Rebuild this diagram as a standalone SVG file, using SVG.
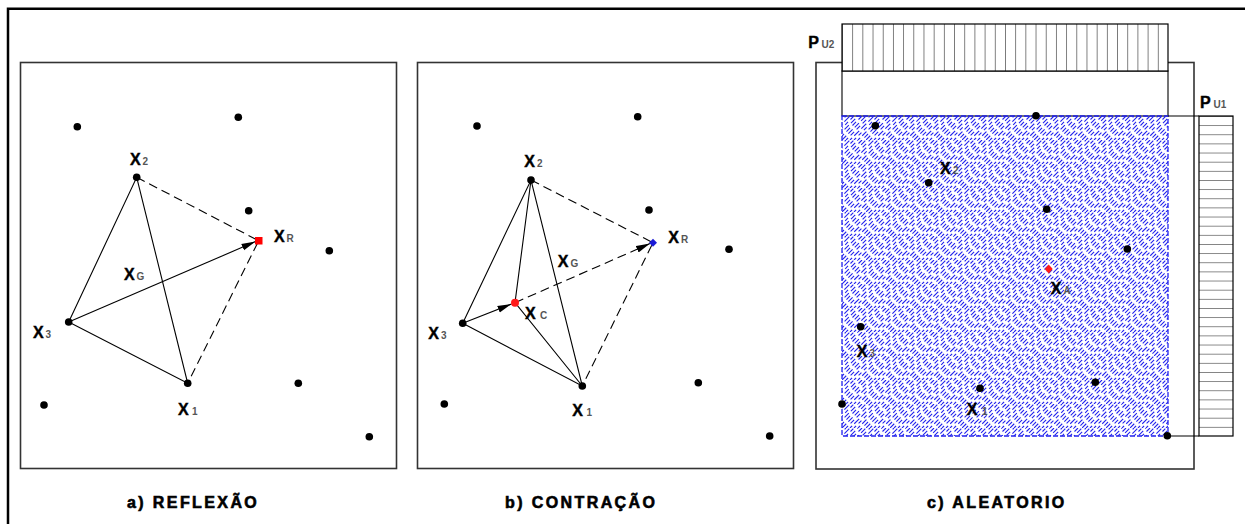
<svg xmlns="http://www.w3.org/2000/svg" width="1245" height="524" viewBox="0 0 1245 524">
<style>
.frame{fill:none;stroke:#000;stroke-width:2.5}
.panel{fill:#fff;stroke:#333;stroke-width:1.6}
.ln{fill:none;stroke:#000;stroke-width:1.1}
.dash{fill:none;stroke:#000;stroke-width:1.1;stroke-dasharray:9 5}
.dot{fill:#000}
.lbl{font-family:"Liberation Sans",Arial,sans-serif;font-weight:bold;font-size:16px;fill:#000;stroke:#000;stroke-width:0.4}
.sub{font-family:"Liberation Sans",Arial,sans-serif;font-weight:bold;font-size:10px;fill:#555}
.cap{font-family:"Liberation Sans",Arial,sans-serif;font-weight:bold;font-size:16px;letter-spacing:2.4px;fill:#000;stroke:#000;stroke-width:0.6}
.bar{stroke:#000;stroke-width:1.2}
</style>
<defs>
<marker id="arr" viewBox="0 0 14 8" markerWidth="14" markerHeight="8" refX="14" refY="4" orient="auto" markerUnits="userSpaceOnUse">
<path d="M0,0.5 L14,4 L0,7.5 Z" fill="#000"/>
</marker>
<pattern id="hatch" patternUnits="userSpaceOnUse" x="842" y="116" width="24" height="24">
<g stroke="#2222ee" stroke-width="1.1" fill="none">
<path d="M-24,24 L0,0" stroke-dasharray="6 3"/>
<path d="M-20,24 L4,0" stroke-dasharray="5 3.5" stroke-dashoffset="2"/>
<path d="M-16,24 L8,0" stroke-dasharray="7 3" stroke-dashoffset="4"/>
<path d="M-12,24 L12,0" stroke-dasharray="4 3.5" stroke-dashoffset="1"/>
<path d="M-8,24 L16,0" stroke-dasharray="6 3" stroke-dashoffset="3"/>
<path d="M-4,24 L20,0" stroke-dasharray="5 3.5" stroke-dashoffset="5"/>
<path d="M0,24 L24,0" stroke-dasharray="6 3"/>
<path d="M4,24 L28,0" stroke-dasharray="5 3.5" stroke-dashoffset="2"/>
<path d="M8,24 L32,0" stroke-dasharray="7 3" stroke-dashoffset="4"/>
<path d="M12,24 L36,0" stroke-dasharray="4 3.5" stroke-dashoffset="1"/>
<path d="M16,24 L40,0" stroke-dasharray="6 3" stroke-dashoffset="3"/>
<path d="M20,24 L44,0" stroke-dasharray="5 3.5" stroke-dashoffset="5"/>
</g>
</pattern>
<pattern id="vbars" patternUnits="userSpaceOnUse" x="842" y="24" width="10.1875" height="47">
<line x1="0" y1="0" x2="0" y2="47" stroke="#000" stroke-width="1"/>
</pattern>
<pattern id="hbars" patternUnits="userSpaceOnUse" x="1199" y="116" width="34" height="9.1428">
<line x1="0" y1="0" x2="34" y2="0" stroke="#000" stroke-width="1"/>
</pattern>
</defs>

<rect width="1245" height="524" fill="#fff"/>
<path class="frame" d="M8,524 V8.7 H1245"/>

<g id="panel-a"><rect class="panel" x="20.5" y="62.5" width="376" height="406"/></g>
<g id="panel-b"><rect class="panel" x="417.5" y="62.5" width="376" height="406"/></g>
<g id="panel-c">
<rect class="panel" x="816" y="62.5" width="378" height="406.5"/>
<rect x="842" y="71" width="326" height="45" fill="#fff" stroke="#000" stroke-width="1.1"/>
<rect x="842" y="116" width="326" height="320" fill="url(#hatch)" stroke="#2222ee" stroke-width="1.3" stroke-dasharray="5 2"/>
</g>
<g id="bar-pu2">
<rect x="842" y="24" width="326" height="47" fill="#fff"/>
<rect x="842" y="24" width="326" height="47" fill="url(#vbars)" class="bar"/>
</g>
<g id="bar-pu1">
<rect x="1199" y="116" width="34" height="320" fill="#fff"/>
<rect x="1199" y="116" width="34" height="320" fill="url(#hbars)" class="bar"/>
<path class="ln" d="M1168,116 H1199 M1168,436 H1199"/>
</g>

<g id="connectors">
<path class="ln" d="M68.7,322 L136.7,177.3 L187.7,383.3 Z"/>
<path class="ln" d="M68.7,322 L255.5,241.6" marker-end="url(#arr)"/>
<path class="dash" d="M136.7,177.3 L258.7,240.7 L187.7,383.3"/>
<path class="ln" d="M462.7,323.3 L531,180 L582.3,386 Z"/>
<path class="ln" d="M531,180 L515,302.7 L582.3,386"/>
<path class="ln" d="M462.7,323.3 L511.5,304" marker-end="url(#arr)"/>
<path class="dash" d="M515,302.7 L650,243.6" marker-end="url(#arr)"/>
<path class="dash" d="M531,180 L653,242.7 L582.3,386"/>
</g>

<g id="a-points">
<circle class="dot" cx="77.3" cy="126.7" r="3.8"/>
<circle class="dot" cx="238.3" cy="117.3" r="3.8"/>
<circle class="dot" cx="248.7" cy="210.7" r="3.8"/>
<circle class="dot" cx="329.3" cy="250.7" r="3.8"/>
<circle class="dot" cx="298.3" cy="383.3" r="3.8"/>
<circle class="dot" cx="44" cy="405" r="3.8"/>
<circle class="dot" cx="369.3" cy="436.7" r="3.8"/>
</g>
<g id="a-x2"><circle class="dot" cx="136.7" cy="177.3" r="3.8"/><text class="lbl" x="130" y="165">X</text><text class="sub" x="142.5" y="165">2</text></g>
<g id="a-xr"><rect x="255" y="237" width="7.5" height="7.5" fill="#ff0000"/><text class="lbl" x="274" y="242">X</text><text class="sub" x="286.5" y="242">R</text></g>
<g id="a-xg"><text class="lbl" x="124" y="280">X</text><text class="sub" x="136.5" y="280">G</text></g>
<g id="a-x3"><circle class="dot" cx="68.7" cy="322" r="3.8"/><text class="lbl" x="33" y="338">X</text><text class="sub" x="45.5" y="338">3</text></g>
<g id="a-x1"><circle class="dot" cx="187.7" cy="383.3" r="3.8"/><text class="lbl" x="178" y="415">X</text><text class="sub" x="192" y="415">1</text></g>

<g id="b-points">
<circle class="dot" cx="477" cy="126" r="3.8"/>
<circle class="dot" cx="637.7" cy="116.7" r="3.8"/>
<circle class="dot" cx="649" cy="210" r="3.8"/>
<circle class="dot" cx="729" cy="249.3" r="3.8"/>
<circle class="dot" cx="698.3" cy="382.7" r="3.8"/>
<circle class="dot" cx="444.3" cy="404" r="3.8"/>
<circle class="dot" cx="769.7" cy="436" r="3.8"/>
</g>
<g id="b-x2"><circle class="dot" cx="531" cy="180" r="3.8"/><text class="lbl" x="524.3" y="167">X</text><text class="sub" x="537" y="167">2</text></g>
<g id="b-xr"><path d="M653,238.7 L657,242.7 L653,246.7 L649,242.7 Z" fill="#1a1ad6"/><text class="lbl" x="668.3" y="243">X</text><text class="sub" x="681" y="243">R</text></g>
<g id="b-xg"><text class="lbl" x="557.7" y="266.7">X</text><text class="sub" x="570.5" y="266.7">G</text></g>
<g id="b-xc"><circle cx="515" cy="302.7" r="4" fill="#ff1a1a"/><text class="lbl" x="525" y="319.3">X</text><text class="sub" x="540" y="319.3">C</text></g>
<g id="b-x3"><circle class="dot" cx="462.7" cy="323.3" r="3.8"/><text class="lbl" x="428.3" y="339.3">X</text><text class="sub" x="441" y="339.3">3</text></g>
<g id="b-x1"><circle class="dot" cx="582.3" cy="386" r="3.8"/><text class="lbl" x="572.3" y="416">X</text><text class="sub" x="586.5" y="416">1</text></g>

<g id="c-points">
<circle class="dot" cx="1036" cy="115.7" r="3.8"/>
<circle class="dot" cx="875.3" cy="125.7" r="3.8"/>
<circle class="dot" cx="1046.7" cy="209.3" r="3.8"/>
<circle class="dot" cx="1127.3" cy="249" r="3.8"/>
<circle class="dot" cx="1095.3" cy="382.3" r="3.8"/>
<circle class="dot" cx="842" cy="404" r="3.8"/>
<circle class="dot" cx="1167.3" cy="435.7" r="3.8"/>
</g>
<g id="c-pu2"><text class="lbl" x="808.3" y="47.7">P</text><text class="sub" x="821.5" y="47.7">U2</text></g>
<g id="c-pu1"><text class="lbl" x="1200" y="108.3">P</text><text class="sub" x="1213.5" y="108.3">U1</text></g>
<g id="c-x2"><circle class="dot" cx="928.7" cy="182.7" r="3.8"/><text class="lbl" x="940" y="174.3">X</text><text class="sub" x="953" y="174.3">2</text></g>
<g id="c-xa"><path d="M1048.7,264.5 L1052.7,269 L1048.7,273.5 L1044.7,269 Z" fill="#ff1a1a"/><text class="lbl" x="1050.7" y="294.3">X</text><text class="sub" x="1063.5" y="294.3">A</text></g>
<g id="c-x3"><circle class="dot" cx="860.7" cy="326.7" r="3.8"/><text class="lbl" x="856.7" y="357.3">X</text><text class="sub" x="869.5" y="357.3">3</text></g>
<g id="c-x1"><circle class="dot" cx="980" cy="388.3" r="3.8"/><text class="lbl" x="966.7" y="415">X</text><text class="sub" x="982" y="415">1</text></g>

<g id="captions">
<text class="cap" x="127" y="508">a) REFLEXÃO</text>
<text class="cap" x="505" y="508">b) CONTRAÇÃO</text>
<text class="cap" x="927" y="508">c) ALEATORIO</text>
</g>
</svg>
